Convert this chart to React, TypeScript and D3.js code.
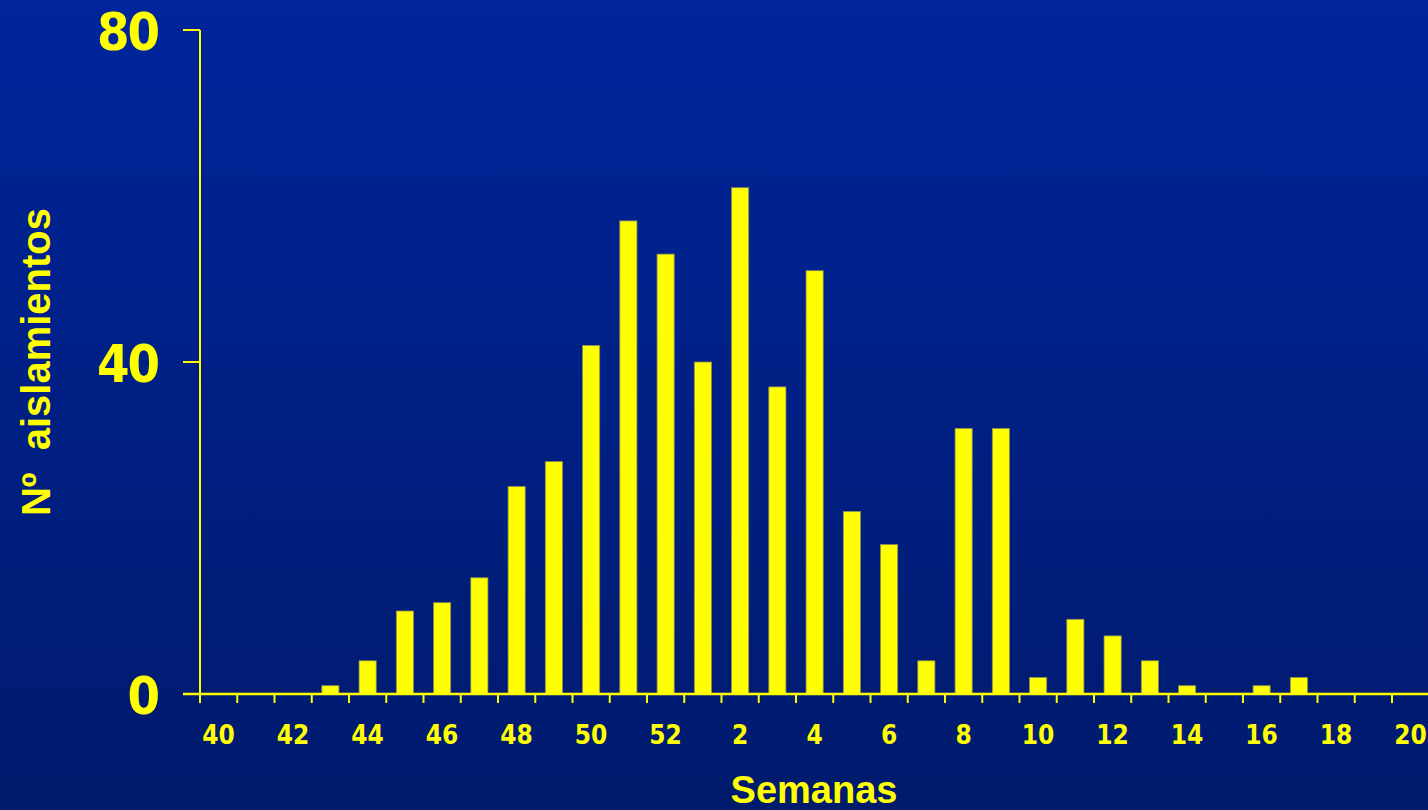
import React from "react";
import * as d3 from "d3";

// Weekly counts of isolates, week 40 through week 20 of the following year
const weeks: number[] = [
  40, 41, 42, 43, 44, 45, 46, 47, 48, 49, 50, 51, 52,
  1, 2, 3, 4, 5, 6, 7, 8, 9, 10, 11, 12, 13, 14, 15, 16, 17, 18, 19, 20,
];
const isolates: number[] = [
  0, 0, 0, 1, 4, 10, 11, 14, 25, 28, 42, 57, 53,
  40, 61, 37, 51, 22, 18, 4, 32, 32, 2, 9, 7, 4, 1, 0, 1, 2, 0, 0, 0,
];
const yTicks: number[] = [0, 40, 80];
const labelledWeeks: number[] = [40, 42, 44, 46, 48, 50, 52, 2, 4, 6, 8, 10, 12, 14, 16, 18, 20];

const W = 1428;
const H = 810;
const YELLOW = "#ffff00";

export default function App() {
  const left = 200;
  const step = 37.25;
  const x = d3
    .scaleBand<number>()
    .domain(weeks)
    .range([left, left + step * weeks.length])
    .paddingInner(0)
    .paddingOuter(0);
  const y = d3.scaleLinear().domain([0, 80]).range([694, 30]);
  const bw = x.bandwidth() * 0.46;
  const numFont = "'DejaVu Sans Condensed', 'DejaVu Sans', sans-serif";
  const titleFont = "'Liberation Sans', Arial, sans-serif";
  const boundaries = weeks.map((w) => x(w) as number);

  return (
    <svg
      width={W}
      height={H}
      style={{ position: "absolute", left: 0, top: 0, display: "block" }}
    >
      <defs>
        <linearGradient id="bg" x1="0" y1="0" x2="0" y2="1">
          <stop offset="0%" stopColor="#00259c" />
          <stop offset="100%" stopColor="#001a6c" />
        </linearGradient>
      </defs>
      <rect x={0} y={0} width={W} height={H} fill="url(#bg)" />

      {/* bars */}
      {weeks.map((w, i) =>
        isolates[i] > 0 ? (
          <rect
            key={w}
            x={(x(w) as number) + x.bandwidth() / 2 - bw / 2}
            y={y(isolates[i])}
            width={bw}
            height={y(0) - y(isolates[i])}
            fill={YELLOW}
            stroke="#8c8c5a"
            strokeWidth={0.8}
          />
        ) : null
      )}

      {/* y axis */}
      <line x1={left} x2={left} y1={y(80)} y2={y(0)} stroke={YELLOW} strokeWidth={2} />
      {yTicks.map((t) => (
        <g key={t}>
          <line x1={183} x2={left} y1={y(t)} y2={y(t)} stroke={YELLOW} strokeWidth={2} />
          <text
            x={158}
            y={y(t) + 20}
            textAnchor="end"
            fill={YELLOW}
            fontFamily={numFont}
            fontWeight="bold"
            fontSize={52}
            letterSpacing={-2}
          >
            {t}
          </text>
        </g>
      ))}

      {/* x axis */}
      <line x1={183} x2={W} y1={y(0)} y2={y(0)} stroke={YELLOW} strokeWidth={2.5} />
      {boundaries.map((b, i) => (
        <line key={i} x1={b} x2={b} y1={y(0)} y2={y(0) + 9} stroke={YELLOW} strokeWidth={2} />
      ))}
      {labelledWeeks.map((w) => (
        <text
          key={w}
          x={(x(w) as number) + x.bandwidth() / 2}
          y={744}
          textAnchor="middle"
          fill={YELLOW}
          fontFamily={numFont}
          fontWeight="bold"
          fontSize={26}
        >
          {w}
        </text>
      ))}

      {/* axis titles */}
      <text
        x={814}
        y={803}
        textAnchor="middle"
        fill={YELLOW}
        fontFamily={titleFont}
        fontWeight="bold"
        fontSize={38}
      >
        Semanas
      </text>
      <text
        transform="translate(50,362) rotate(-90)"
        textAnchor="middle"
        fill={YELLOW}
        fontFamily={titleFont}
        fontWeight="bold"
        fontSize={40}
        style={{ whiteSpace: "pre" }}
      >
        {"Nº  aislamientos"}
      </text>
    </svg>
  );
}
